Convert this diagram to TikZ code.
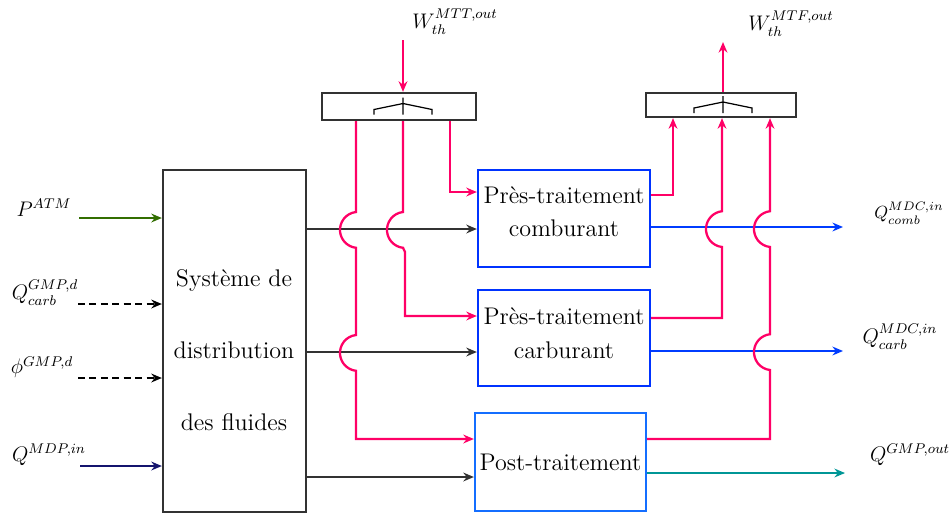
\documentclass[tikz,border=0pt]{standalone}
\usepackage{fontspec}
\usepackage{amsmath}
\usepackage{xcolor}
\usetikzlibrary{arrows.meta}
\definecolor{rose}{RGB}{255,0,102}
\definecolor{bleubloc}{RGB}{0,51,255}
\definecolor{bleuclair}{RGB}{20,110,255}
\definecolor{bleuflux}{RGB}{0,60,255}
\definecolor{sarcelle}{RGB}{0,150,150}
\definecolor{vertatm}{RGB}{50,110,0}
\definecolor{marine}{RGB}{20,20,110}
\definecolor{gris}{RGB}{50,50,50}
\newcommand{\fourche}[2]{%
  \draw[fourche, shift={(#1)}] (#2,-9) -- (#2,8)
    (#2,-3) -- (#2-29,3) -- (#2-29,8)
    (#2,-3) -- (#2+29,3) -- (#2+29,8);}
% saut de ligne : vers le bas / vers le haut
\def\sautbas{arc[start angle=263.7, end angle=96.3, radius=18]}
\def\sauthaut{arc[start angle=96.3, end angle=263.7, radius=18]}

\begin{document}
\begin{tikzpicture}[x=0.2mm, y=-0.2mm, line width=1.3pt,
    >={Stealth[length=6pt,width=5pt]},
    bloc/.style={draw, rectangle, inner sep=0pt, font=\fontsize{13.7}{19}\selectfont},
    fourche/.style={line width=0.7pt, black},
    etiq/.style={inner sep=0pt, font=\large},
    tirets/.style={dash pattern=on 4pt off 2.5pt}]
  \useasboundingbox (0,0) rectangle (950,514);

  % blocs
  \node[bloc, draw=gris, minimum width=28.6mm, minimum height=68.4mm] (sdf) at (234.5,341) {};
  \node[inner sep=0pt, align=center, font=\fontsize{13.7}{41}\selectfont] (sdftxt) at (234,350)
    {Système de\\distribution\\des fluides};
  \node[bloc, draw=bleubloc, minimum width=34.4mm, minimum height=19.4mm, align=center, text depth=8pt] (pcomb) at (564,218.5)
    {Près-traitement\\comburant};
  \node[bloc, draw=bleubloc, minimum width=34.4mm, minimum height=19.2mm, align=center, text depth=5.7pt] (pcarb) at (564,338)
    {Près-traitement\\carburant};
  \node[bloc, draw=bleuclair, minimum width=34.2mm, minimum height=19.6mm] (post) at (560.5,462)
    {Post-traitement};
  \node[bloc, draw=gris, minimum width=30.8mm, minimum height=5.4mm] (colmtt) at (399,106.5) {};
  \node[bloc, draw=gris, minimum width=30mm, minimum height=4.8mm] (colmtf) at (721,105) {};
  \fourche{colmtt.center}{4}
  \fourche{colmtf.center}{2}

  % etiquettes
  \node[etiq] (lpatm) at (44,208) {$P^{ATM}$};
  \node[etiq] (lqcarbd) at (45,293) {$Q_{carb}^{GMP,d}$};
  \node[etiq] (lphi) at (42,367) {$\phi^{GMP,d}$};
  \node[etiq] (lqmdp) at (49,455) {$Q^{MDP,in}$};
  \node[etiq] (lwmtt) at (455,22) {$W_{th}^{MTT,out}$};
  \node[etiq] (lwmtf) at (791,24) {$W_{th}^{MTF,out}$};
  \node[etiq, font=\normalsize] (lqcomb) at (909,213) {$Q_{comb}^{MDC,in}$};
  \node[etiq, font=\small\large] (lqcarb) at (900,337) {$Q_{carb}^{MDC,in}$};
  \node[etiq] (lqgmp) at (910,455) {$Q^{GMP,out}$};

  % entrees
  \coordinate (patm) at (79,218);
  \coordinate (qcarbd) at (78,304);
  \coordinate (phi) at (78,378);
  \coordinate (qmdp) at (80,466);
  \draw[vertatm, ->] (patm) -- (patm -| sdf.west);
  \draw[black, tirets, ->] (qcarbd) -- (qcarbd -| sdf.west);
  \draw[black, tirets, ->] (phi) -- (phi -| sdf.west);
  \draw[marine, ->] (qmdp) -- (qmdp -| sdf.west);

  % fluides
  \draw[gris, ->] (sdf.east |- 0,229) -- (pcomb.west |- 0,229);
  \draw[gris, ->] (sdf.east |- 0,352) -- (pcarb.west |- 0,352);
  \draw[gris, ->] (sdf.east |- 0,477) -- (post.west |- 0,477);

  % sorties
  \coordinate (qcomb) at (843,227);
  \coordinate (qcarb) at (843,351);
  \coordinate (qgmp) at (845,473);
  \draw[bleuflux, ->] (pcomb.east |- qcomb) -- (qcomb);
  \draw[bleuflux, ->] (pcarb.east |- qcarb) -- (qcarb);
  \draw[sarcelle, ->] (post.east |- qgmp) -- (qgmp);

  % thermique entrant
  \coordinate (wmtt) at (403,40);
  \coordinate (xa) at (356,0);
  \coordinate (xb) at (403,0);
  \coordinate (xc) at (450,0);
  \draw[rose, ->] (wmtt) -- (wmtt |- colmtt.north);
  \draw[rose, ->] (colmtt.south -| xc) |- (pcomb.west |- 0,192);
  \draw[rose, ->] (colmtt.south -| xb) -- (403,212) \sautbas
    -- (405,252) |- (pcarb.west |- 0,316);
  \draw[rose, ->] (colmtt.south -| xa) -- (356,212) \sautbas
    -- (356,335) \sautbas |- (post.west |- 0,439);

  % thermique sortant
  \coordinate (wmtf) at (723,42);
  \coordinate (xd) at (673,0);
  \coordinate (xe) at (722,0);
  \coordinate (xf) at (770,0);
  \draw[rose, ->] (colmtf.north -| wmtf) -- (wmtf);
  \draw[rose, ->] (pcomb.east |- 0,195) -| (colmtf.south -| xd);
  \draw[rose, ->] (pcarb.east |- 0,318) -- (722,318) -- (722,247) \sauthaut
    -- (colmtf.south -| xe);
  \draw[rose, ->] (post.east |- 0,439) -- (770,439) -- (770,370) \sauthaut
    -- (770,247) \sauthaut -- (colmtf.south -| xf);
\end{tikzpicture}
\end{document}
